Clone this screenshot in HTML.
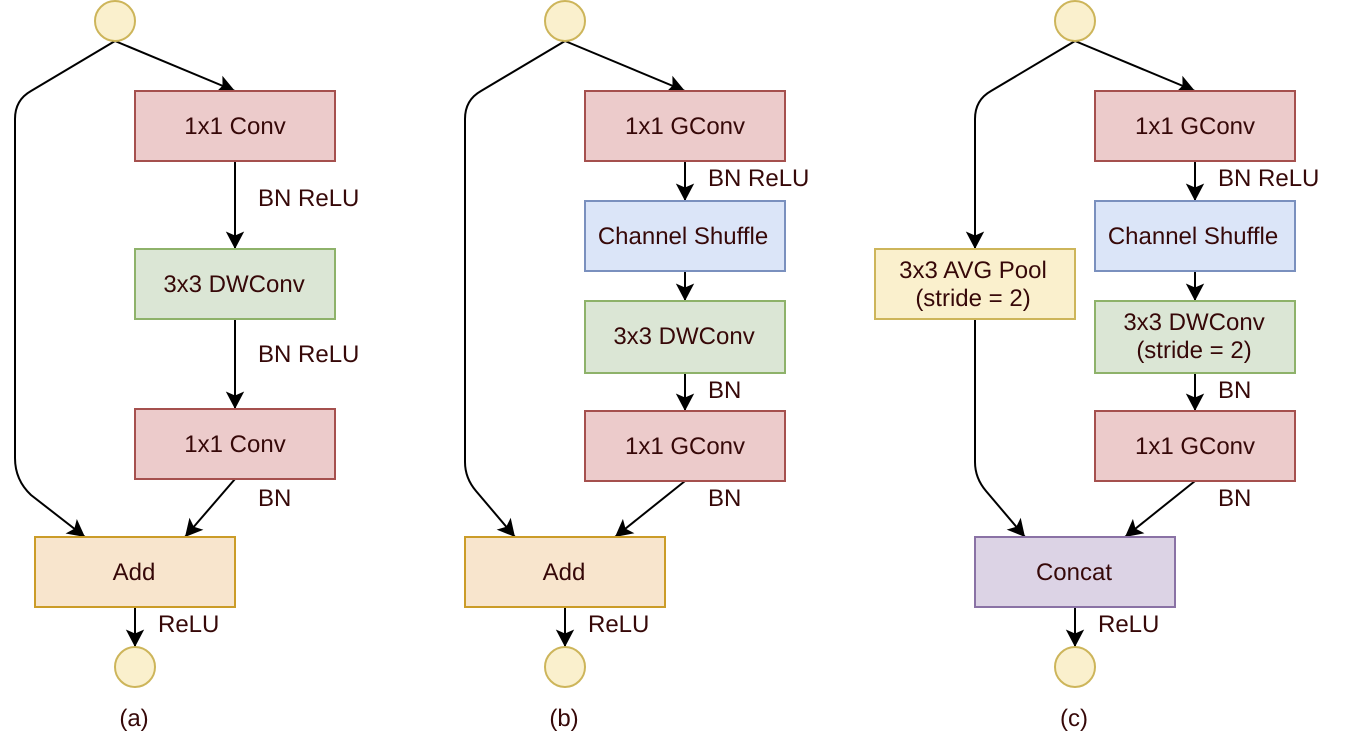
<!DOCTYPE html>
<html>
<head>
<meta charset="utf-8">
<style>
html,body{margin:0;padding:0;background:#fff;width:1356px;height:744px;overflow:hidden}
svg{display:block}
text{font-family:"Liberation Sans",Arial,sans-serif;font-size:24px;fill:#360808;text-rendering:geometricPrecision}
.m{text-anchor:middle}
.c{fill:#faf0cd;stroke:#cdb55a;stroke-width:2}
.r{fill:#eccbcb;stroke:#a5504e;stroke-width:2}
.g{fill:#dbe6d5;stroke:#8eb26a;stroke-width:2}
.b{fill:#dbe5f8;stroke:#7a90be;stroke-width:2}
.o{fill:#f8e5cd;stroke:#cb9c28;stroke-width:2}
.y{fill:#faf0cd;stroke:#cdb55a;stroke-width:2}
.p{fill:#dcd3e5;stroke:#8a72a5;stroke-width:2}
.l{fill:none;stroke:#000;stroke-width:2}
.a{fill:#000;stroke:none}
</style>
</head>
<body>
<svg width="1356" height="744" viewBox="0 0 1356 744" xmlns="http://www.w3.org/2000/svg">
<defs>
<marker id="h" markerUnits="userSpaceOnUse" markerWidth="24" markerHeight="24" refX="20" refY="12" orient="auto">
<path class="a" d="M20 12 L2.5 2.8 L6.5 12 L2.5 21.2 Z"/>
</marker>
</defs>

<!-- Column a -->
<path class="l" marker-end="url(#h)" d="M115 41 L235 91"/>
<path class="l" marker-end="url(#h)" d="M115 41 L31 91 Q15 100 15 119 L15 458 Q15 480 31 495 L85 537"/>
<path class="l" marker-end="url(#h)" d="M235 161 L235 249"/>
<path class="l" marker-end="url(#h)" d="M235 319 L235 409"/>
<path class="l" marker-end="url(#h)" d="M235 479 L185 537"/>
<path class="l" marker-end="url(#h)" d="M135 607 L135 647"/>
<circle class="c" cx="115" cy="21" r="20"/>
<rect class="r" x="135" y="91" width="200" height="70"/>
<rect class="g" x="135" y="249" width="200" height="70"/>
<rect class="r" x="135" y="409" width="200" height="70"/>
<rect class="o" x="35" y="537" width="200" height="70"/>
<circle class="c" cx="135" cy="667" r="20"/>
<text class="m" x="235" y="134">1x1 Conv</text>
<text class="m" x="234" y="292">3x3 DWConv</text>
<text class="m" x="235" y="452">1x1 Conv</text>
<text class="m" x="134" y="580">Add</text>
<text x="258" y="206">BN ReLU</text>
<text x="258" y="362">BN ReLU</text>
<text x="258" y="506">BN</text>
<text x="158" y="632">ReLU</text>
<text class="m" x="134" y="726">(a)</text>

<!-- Column b -->
<path class="l" marker-end="url(#h)" d="M565 41 L685 91"/>
<path class="l" marker-end="url(#h)" d="M565 41 L481 91 Q465 100 465 119 L465 462 Q465 478 476 491 L515 537"/>
<path class="l" marker-end="url(#h)" d="M685 161 L685 201"/>
<path class="l" marker-end="url(#h)" d="M685 271 L685 301"/>
<path class="l" marker-end="url(#h)" d="M685 373 L685 411"/>
<path class="l" marker-end="url(#h)" d="M685 481 L615 537"/>
<path class="l" marker-end="url(#h)" d="M565 607 L565 647"/>
<circle class="c" cx="565" cy="21" r="20"/>
<rect class="r" x="585" y="91" width="200" height="70"/>
<rect class="b" x="585" y="201" width="200" height="70"/>
<rect class="g" x="585" y="301" width="200" height="72"/>
<rect class="r" x="585" y="411" width="200" height="70"/>
<rect class="o" x="465" y="537" width="200" height="70"/>
<circle class="c" cx="565" cy="667" r="20"/>
<text class="m" x="685" y="134">1x1 GConv</text>
<text class="m" x="683" y="244">Channel Shuffle</text>
<text class="m" x="684" y="344">3x3 DWConv</text>
<text class="m" x="685" y="454">1x1 GConv</text>
<text class="m" x="564" y="580">Add</text>
<text x="708" y="186">BN ReLU</text>
<text x="708" y="398">BN</text>
<text x="708" y="506">BN</text>
<text x="588" y="632">ReLU</text>
<text class="m" x="564" y="726">(b)</text>

<!-- Column c -->
<path class="l" marker-end="url(#h)" d="M1075 41 L1195 91"/>
<path class="l" marker-end="url(#h)" d="M1075 41 L991 91 Q975 100 975 119 L975 249"/>
<path class="l" marker-end="url(#h)" d="M975 319 L975 462 Q975 478 986 491 L1025 537"/>
<path class="l" marker-end="url(#h)" d="M1195 161 L1195 201"/>
<path class="l" marker-end="url(#h)" d="M1195 271 L1195 301"/>
<path class="l" marker-end="url(#h)" d="M1195 373 L1195 411"/>
<path class="l" marker-end="url(#h)" d="M1195 481 L1125 537"/>
<path class="l" marker-end="url(#h)" d="M1075 607 L1075 647"/>
<circle class="c" cx="1075" cy="21" r="20"/>
<rect class="r" x="1095" y="91" width="200" height="70"/>
<rect class="b" x="1095" y="201" width="200" height="70"/>
<rect class="g" x="1095" y="301" width="200" height="72"/>
<rect class="r" x="1095" y="411" width="200" height="70"/>
<rect class="y" x="875" y="249" width="200" height="70"/>
<rect class="p" x="975" y="537" width="200" height="70"/>
<circle class="c" cx="1075" cy="667" r="20"/>
<text class="m" x="1195" y="134">1x1 GConv</text>
<text class="m" x="1193" y="244">Channel Shuffle</text>
<text class="m" x="1194" y="330">3x3 DWConv</text>
<text class="m" x="1194" y="358">(stride = 2)</text>
<text class="m" x="1195" y="454">1x1 GConv</text>
<text class="m" x="973" y="278">3x3 AVG Pool</text>
<text class="m" x="973" y="306">(stride = 2)</text>
<text class="m" x="1074" y="580">Concat</text>
<text x="1218" y="186">BN ReLU</text>
<text x="1218" y="398">BN</text>
<text x="1218" y="506">BN</text>
<text x="1098" y="632">ReLU</text>
<text class="m" x="1074" y="726">(c)</text>
</svg>
</body>
</html>
